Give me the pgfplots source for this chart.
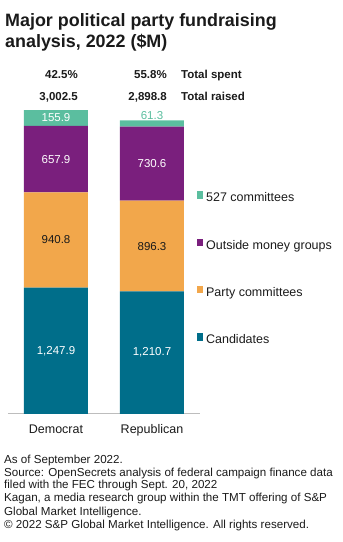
\documentclass[border=0pt]{standalone}
\usepackage{fontspec}
\setmainfont{Liberation Sans}
\usepackage{pgfplots}
\pgfplotsset{compat=1.18}
\definecolor{cand}{HTML}{006E8A}
\definecolor{party}{HTML}{F2A74B}
\definecolor{outside}{HTML}{7A1F7D}
\definecolor{tsv}{HTML}{5BBE9F}
\definecolor{axisgray}{HTML}{BDBDBD}
\definecolor{txt}{HTML}{1A1A1A}
\tikzset{blab/.style={inner sep=0pt, font=\fontsize{11.5}{13}\selectfont}}
\begin{document}
\begin{tikzpicture}[x=1pt,y=1pt]
\path (0,0) rectangle (343,542);
% title
\node[anchor=base west, inner sep=0, text=txt, font=\fontsize{17.9}{20}\selectfont\bfseries] at (5,515) {Major political party fundraising};
\node[anchor=base west, inner sep=0, text=txt, font=\fontsize{17.9}{20}\selectfont\bfseries] at (5,494) {analysis, 2022 (\$M)};
% header rows
\node[anchor=base east, inner sep=0, text=txt, font=\fontsize{11.5}{13}\selectfont\bfseries] at (78,463) {42.5\%};
\node[anchor=base east, inner sep=0, text=txt, font=\fontsize{11.5}{13}\selectfont\bfseries] at (167,463) {55.8\%};
\node[anchor=base west, inner sep=0, text=txt, font=\fontsize{11.5}{13}\selectfont\bfseries] at (181,463) {Total spent};
\node[anchor=base east, inner sep=0, text=txt, font=\fontsize{11.5}{13}\selectfont\bfseries] at (78,441) {3,002.5};
\node[anchor=base east, inner sep=0, text=txt, font=\fontsize{11.5}{13}\selectfont\bfseries] at (167,441) {2,898.8};
\node[anchor=base west, inner sep=0, text=txt, font=\fontsize{11.5}{13}\selectfont\bfseries] at (181,441) {Total raised};
% footer
\tikzset{foot/.style={anchor=base west, inner sep=0, text=txt, font=\fontsize{11.6}{13}\selectfont}}
\node[foot] at (4,78) {As of September 2022.};
\node[foot] at (4,65.3) {Source: OpenSecrets analysis of federal campaign finance data};
\node[foot] at (4,53) {filed with the FEC through Sept. 20, 2022};
\node[foot] at (4,40) {Kagan, a media research group within the TMT offering of S\&P};
\node[foot] at (4,26.5) {Global Market Intelligence.};
\node[foot] at (4,13.5) {\textcopyright{} 2022 S\&P Global Market Intelligence. All rights reserved.};
\begin{axis}[
  at={(8pt,128pt)}, anchor=south west,
  scale only axis, width=192pt, height=304pt,
  xmin=-0.5, xmax=1.5, ymin=0, ymax=3002.5,
  ybar stacked, bar width=64pt,
  clip=false,
  axis x line*=bottom, axis y line=none,
  x axis line style={-, draw=axisgray, line width=1pt},
  xtick={0,1}, xticklabels={Democrat,Republican},
  major tick length=0pt,
  xticklabel style={inner sep=0pt, anchor=north, yshift=-10.5pt, text=txt, font=\fontsize{12.5}{14}\selectfont},
  ytick=\empty,
  reverse legend,
  legend cell align=left,
  legend style={at={(0.984,0.7286)}, anchor=north west, draw=none, fill=none, inner sep=0pt,
     row sep=35.3pt, column sep=3pt,
     nodes={inner sep=0pt, text height=9pt, text depth=3pt, text=txt, font=\fontsize{12.5}{14}\selectfont}},
  legend image code/.code={\path (0pt,0pt) rectangle (6pt,6pt);
     \fill[#1, overlay] (0pt,1.5pt) rectangle (6pt,7.5pt);},
]
\addplot[fill=cand, draw=none] coordinates {(0,1247.9) (1,1210.7)};
\addplot[fill=party, draw=none] coordinates {(0,940.8) (1,896.3)};
\addplot[fill=outside, draw=none] coordinates {(0,657.9) (1,730.6)};
\addplot[fill=tsv, draw=none] coordinates {(0,155.9) (1,61.3)};
\legend{Candidates, Party committees, Outside money groups, 527 committees}
\coordinate (d1) at (axis cs:0,623.95);
\coordinate (r1) at (axis cs:1,605.35);
\coordinate (d2) at (axis cs:0,1718.3);
\coordinate (r2) at (axis cs:1,1658.85);
\coordinate (d3) at (axis cs:0,2517.65);
\coordinate (r3) at (axis cs:1,2472.3);
\coordinate (d4) at (axis cs:0,2924.55);
\coordinate (r4) at (axis cs:1,2898.8);
\end{axis}
\node[blab, text=white] at (d1) {1,247.9};
\node[blab, text=white] at (r1) {1,210.7};
\node[blab, text=txt] at (d2) {940.8};
\node[blab, text=txt] at (r2) {896.3};
\node[blab, text=white] at (d3) {657.9};
\node[blab, text=white] at (r3) {730.6};
\node[blab, text=white] at (d4) {155.9};
\node[blab, text=tsv, anchor=south, yshift=1pt] at (r4) {61.3};
\end{tikzpicture}
\end{document}
